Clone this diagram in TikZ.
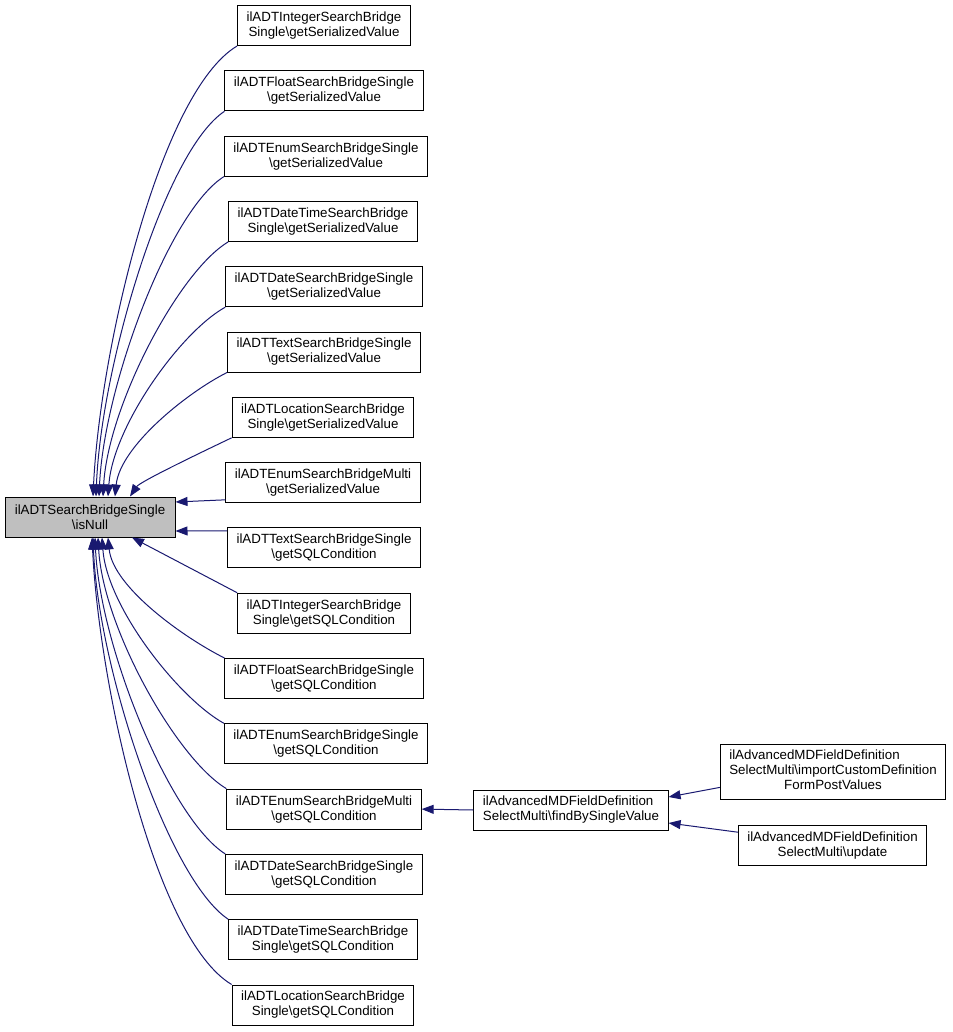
\documentclass[tikz,border=0pt]{standalone}
\usepackage{fontspec}
\setmainfont{Liberation Sans}
\usetikzlibrary{
	arrows.meta
}
\definecolor{edgeblue}{HTML}{191970}
\definecolor{nullgray}{HTML}{BFBFBF}

\begin{document}
\begin{tikzpicture}[
    x=1pt, y=1pt,
    box/.style = { draw,fill=white,line width=1pt,align=center,inner xsep=9pt,inner ysep=5pt,minimum height=40pt,font=\fontsize{13.33}{15}\selectfont },
    arrowstyle/.style = { ->,>={Triangle[length=12pt,width=9pt]},line width=1pt,edgeblue }
    ]
    \useasboundingbox (0,0) rectangle (952,-1032);
    % Definitions
    \coordinate (null) at ( 90  ,-517   );
    \coordinate (intv) at (324  ,-25.5  );
    \coordinate (fltv) at (324  ,-90.8  );
    \coordinate (enmv) at (326  ,-156.1 );
    \coordinate (dtmv) at (323  ,-221.4 );
    \coordinate (datv) at (324  ,-286.7 );
    \coordinate (txtv) at (324  ,-352   );
    \coordinate (locv) at (323  ,-417.3 );
    \coordinate (emuv) at (323  ,-482.6 );
    \coordinate (txtq) at (324  ,-547.9 );
    \coordinate (intq) at (324  ,-613.2 );
    \coordinate (fltq) at (324  ,-678.5 );
    \coordinate (enmq) at (326  ,-743.8 );
    \coordinate (emuq) at (324  ,-809.1 );
    \coordinate (datq) at (324  ,-874.4 );
    \coordinate (dtmq) at (323  ,-939.7 );
    \coordinate (locq) at (323  ,-1005  );
    \coordinate (fbsv) at (571  ,-810   );
    \coordinate (impc) at (833  ,-771.5 );
    \coordinate (updt) at (832.5,-845.5 );
    % Nodes
    \node(N)   at (null) [box,fill=nullgray,minimum width=170pt] {ilADTSearchBridgeSingle\\\textbackslash isNull};
    \node(IV)  at (intv) [box] {ilADTIntegerSearchBridge\\Single\textbackslash getSerializedValue};
    \node(FV)  at (fltv) [box] {ilADTFloatSearchBridgeSingle\\\textbackslash getSerializedValue};
    \node(EV)  at (enmv) [box] {ilADTEnumSearchBridgeSingle\\\textbackslash getSerializedValue};
    \node(DTV) at (dtmv) [box] {ilADTDateTimeSearchBridge\\Single\textbackslash getSerializedValue};
    \node(DV)  at (datv) [box] {ilADTDateSearchBridgeSingle\\\textbackslash getSerializedValue};
    \node(TV)  at (txtv) [box] {ilADTTextSearchBridgeSingle\\\textbackslash getSerializedValue};
    \node(LV)  at (locv) [box] {ilADTLocationSearchBridge\\Single\textbackslash getSerializedValue};
    \node(EMV) at (emuv) [box] {ilADTEnumSearchBridgeMulti\\\textbackslash getSerializedValue};
    \node(TQ)  at (txtq) [box] {ilADTTextSearchBridgeSingle\\\textbackslash getSQLCondition};
    \node(IQ)  at (intq) [box] {ilADTIntegerSearchBridge\\Single\textbackslash getSQLCondition};
    \node(FQ)  at (fltq) [box] {ilADTFloatSearchBridgeSingle\\\textbackslash getSQLCondition};
    \node(EQ)  at (enmq) [box] {ilADTEnumSearchBridgeSingle\\\textbackslash getSQLCondition};
    \node(EMQ) at (emuq) [box] {ilADTEnumSearchBridgeMulti\\\textbackslash getSQLCondition};
    \node(DQ)  at (datq) [box] {ilADTDateSearchBridgeSingle\\\textbackslash getSQLCondition};
    \node(DTQ) at (dtmq) [box] {ilADTDateTimeSearchBridge\\Single\textbackslash getSQLCondition};
    \node(LQ)  at (locq) [box] {ilADTLocationSearchBridge\\Single\textbackslash getSQLCondition};
    \node(FB)  at (fbsv) [box,align=left] {ilAdvancedMDFieldDefinition\\SelectMulti\textbackslash findBySingleValue};
    \node(IC)  at (impc) [box] {\begin{tabular}{@{}l@{}}ilAdvancedMDFieldDefinition\\SelectMulti\textbackslash importCustomDefinition\\\multicolumn{1}{@{}c@{}}{FormPostValues}\end{tabular}};
    \node(UP)  at (updt) [box] {ilAdvancedMDFieldDefinition\\SelectMulti\textbackslash update};
    % Arrows
    \draw[arrowstyle] (IV.south west)  .. controls +(-77,-46) and +(7,147)  .. ([xshift=3pt]N.north);
    \draw[arrowstyle] (FV.south west)  .. controls +(-60,-40) and +(5,130)  .. ([xshift=6pt]N.north);
    \draw[arrowstyle] (EV.south west)  .. controls +(-55,-35) and +(5,110)  .. ([xshift=9pt]N.north);
    \draw[arrowstyle] (DTV.south west) .. controls +(-50,-30) and +(5,90)   .. ([xshift=13pt]N.north);
    \draw[arrowstyle] (DV.south west)  .. controls +(-45,-25) and +(5,70)   .. ([xshift=18pt]N.north);
    \draw[arrowstyle] (TV.south west)  .. controls +(-40,-20) and +(5,50)   .. ([xshift=25pt]N.north);
    \draw[arrowstyle] (LV.south west)  .. controls +(-25,-12) and +(10,15)  .. ([xshift=40pt]N.north);
    \draw[arrowstyle] (EMV.190)        -- ([yshift=15pt]N.east);
    \draw[arrowstyle] (TQ.170)         -- ([yshift=-14pt]N.east);
    \draw[arrowstyle] (IQ.north west)  -- ([xshift=42pt]N.south);
    \draw[arrowstyle] (FQ.north west)  .. controls +(-40,20) and +(5,-50)   .. ([xshift=18pt]N.south);
    \draw[arrowstyle] (EQ.north west)  .. controls +(-45,25) and +(5,-70)   .. ([xshift=12pt]N.south);
    \draw[arrowstyle] (EMQ.north west) .. controls +(-50,30) and +(5,-90)   .. ([xshift=8pt]N.south);
    \draw[arrowstyle] (DQ.north west)  .. controls +(-55,35) and +(5,-110)  .. ([xshift=5pt]N.south);
    \draw[arrowstyle] (DTQ.north west) .. controls +(-60,40) and +(5,-130)  .. ([xshift=3pt]N.south);
    \draw[arrowstyle] (LQ.north west)  .. controls +(-77,46) and +(7,-147)  .. ([xshift=2pt]N.south);
    \draw[arrowstyle] (FB.west)        -- (EMQ.east);
    \draw[arrowstyle] (IC.188)         -- ([yshift=13pt]FB.east);
    \draw[arrowstyle] (UP.172)         -- ([yshift=-13pt]FB.east);
\end{tikzpicture}
\end{document}
